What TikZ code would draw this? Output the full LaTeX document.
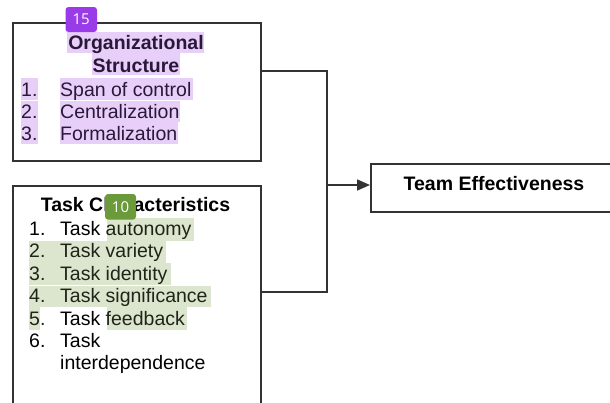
\documentclass[tikz,border=0pt]{standalone}
\usepackage{fontspec}
\setmainfont{Liberation Sans}
\newfontfamily\badgefont{Open Sans}
\usetikzlibrary{arrows.meta}
\definecolor{linec}{HTML}{333333}
\definecolor{purphl}{HTML}{E8CFFA}
\definecolor{purpbadge}{HTML}{9A3BEA}
\definecolor{greenhl}{HTML}{DCE5CD}
\definecolor{greenbadge}{HTML}{6A9A3A}
\definecolor{purptext}{HTML}{2A1838}
\definecolor{greentext}{HTML}{1E2418}
\tikzset{
  box/.style={draw=linec, line width=1.6pt, fill=white, rectangle, inner sep=0pt, anchor=north west},
  conn/.style={draw=linec, line width=1.6pt},
  txt/.style={inner sep=0pt, anchor=base west, font=\fontsize{19.5}{22}\selectfont},
  btxt/.style={inner sep=0pt, anchor=base, font=\fontsize{19.5}{22}\selectfont\bfseries},
  badge/.style={rounded corners=3pt},
  badgetxt/.style={text=white, inner sep=0pt, font=\badgefont\fontsize{15}{16}\selectfont}
}
\begin{document}
\begin{tikzpicture}[x=1pt,y=-1pt]
\useasboundingbox (0,0) rectangle (610,402);
\clip (0,0) rectangle (610,402);
\fill[white] (0,0) rectangle (610,402);

% boxes
\node[box, minimum width=248pt, minimum height=138pt] (org) at (12,22) {};
\node[box, minimum width=248pt, minimum height=240pt] (task) at (12,185) {};
\node[box, minimum width=250pt, minimum height=48pt] (team) at (370,163) {};

% connectors
\coordinate (jt) at (327,71);
\coordinate (jb) at (327,292);
\coordinate (ja) at (327,185);
\draw[conn] (org.east |- jt) -- (jt) -- (jb) -- (task.east |- jb);
\draw[conn, -{Triangle[length=13pt,width=11pt]}] (ja) -- (team.west |- ja);

% purple highlights
\fill[purphl] (67,32) rectangle (204,53);
\fill[purphl] (92,53) rectangle (180,75);
\fill[purphl] (21,78) rectangle (38,99.5);
\fill[purphl] (60,78) rectangle (193,99.5);
\fill[purphl] (21,100.5) rectangle (38,122);
\fill[purphl] (60,100.5) rectangle (180,122);
\fill[purphl] (21,122) rectangle (38,144);
\fill[purphl] (60,122) rectangle (178,144);

% green highlights
\fill[greenhl] (107,218) rectangle (194,240.7);
\fill[greenhl] (29,240.7) rectangle (166,262.7);
\fill[greenhl] (29,263.3) rectangle (171,285);
\fill[greenhl] (29,286) rectangle (211,307.3);
\fill[greenhl] (29,307.3) rectangle (40,330);
\fill[greenhl] (107,307.3) rectangle (187,330);

% organizational structure text
\node[btxt, text=purptext] (orgt1) at (136,49) {Organizational};
\node[btxt, text=purptext] (orgt2) at (136,72.5) {Structure};
\node[txt, text=purptext] (on1) at (21,96) {1.};
\node[txt, text=purptext] (oi1) at (60,96) {Span of control};
\node[txt, text=purptext] (on2) at (21,118) {2.};
\node[txt, text=purptext] (oi2) at (60,118) {Centralization};
\node[txt, text=purptext] (on3) at (21,140) {3.};
\node[txt, text=purptext] (oi3) at (60,140) {Formalization};

% task characteristics text
\node[btxt] (tt) at (135.5,211.5) {Task Characteristics};
\node[txt] (tn1) at (29,235) {1.};
\node[txt] (ti1) at (60,235) {Task \textcolor{greentext}{autonomy}};
\node[txt, text=greentext] (tn2) at (29,257.5) {2.};
\node[txt, text=greentext] (ti2) at (60,257.5) {Task variety};
\node[txt, text=greentext] (tn3) at (29,280) {3.};
\node[txt, text=greentext] (ti3) at (60,280) {Task identity};
\node[txt, text=greentext] (tn4) at (29,302.5) {4.};
\node[txt, text=greentext] (ti4) at (60,302.5) {Task significance};
\node[txt, text=greentext] (tn5) at (29,325) {5.};
\node[txt] (ti5) at (60,325) {Task \textcolor{greentext}{feedback}};
\node[txt] (tn6) at (29,347.5) {6.};
\node[txt] (ti6) at (60,347.5) {Task};
\node[txt] (ti6b) at (60,369.5) {interdependence};

% team effectiveness text
\node[btxt] (teamt) at (494,190) {Team Effectiveness};

% badges
\fill[purpbadge, badge] (65.5,7) rectangle (97,32);
\node[badgetxt] (b15) at (81.2,19.5) {15};
\fill[greenbadge, badge] (105,194) rectangle (136,219.5);
\node[badgetxt] (b10) at (120.5,206.8) {10};
\end{tikzpicture}
\end{document}
